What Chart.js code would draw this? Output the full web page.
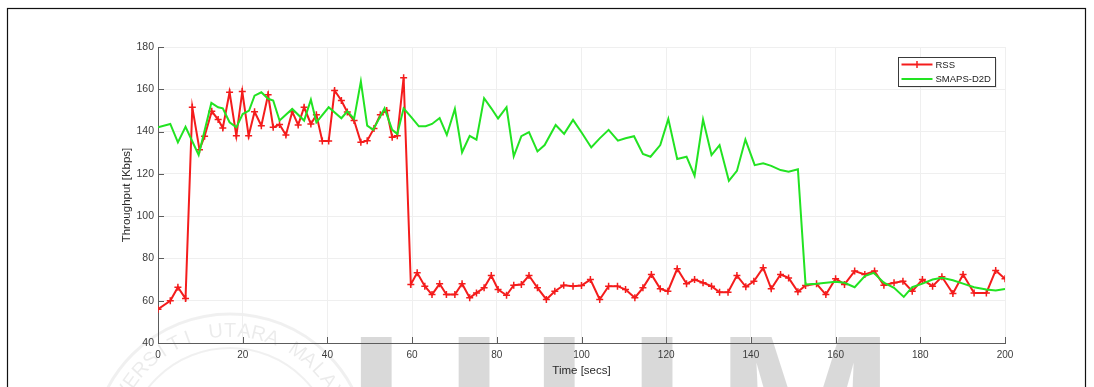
<!DOCTYPE html>
<html>
<head>
<meta charset="utf-8">
<title>Throughput</title>
<script src="https://cdn.jsdelivr.net/npm/chart.js@4.4.1/dist/chart.umd.min.js"></script>
<style>
  html, body { margin: 0; padding: 0; background: #fff; }
  #wrap { width: 1094px; height: 387px; }
</style>
</head>
<body>
<div id="wrap"><canvas id="chart-throughput" width="1094" height="387"></canvas></div>
<script>
// RSS throughput samples (time in secs, Kbps)
const rssTime = [0, 2.9, 4.7, 6.5, 8.1, 9.8, 11.0, 12.7, 14.2, 15.3, 16.9, 18.5, 19.9, 21.4, 22.8, 24.4, 26.0, 27.2, 28.7, 30.2,
  31.7, 33.1, 34.5, 36.1, 37.4, 38.8, 40.3, 41.7, 43.3, 44.7, 46.3, 47.9, 49.4, 51.0, 52.5, 54.0, 55.3, 56.5, 58.0, 59.7,
  61.2, 63.0, 64.7, 66.5, 68.1, 70.1, 71.8, 73.6, 75.2, 77.0, 78.7, 80.3, 82.3, 84.0, 85.8, 87.6, 89.6, 91.7, 93.7, 95.8,
  98.0, 100.0, 102.1, 104.3, 106.4, 108.5, 110.4, 112.6, 114.5, 116.5, 118.6, 120.4, 122.6, 124.8, 126.7, 128.7, 130.7, 132.6, 134.6, 136.7,
  138.8, 140.7, 142.9, 144.8, 147.0, 148.9, 151.1, 152.9, 155.5, 157.7, 160.0, 162.1, 164.5, 166.9, 169.2, 171.4, 173.8, 175.9, 178.1, 180.5,
  182.9, 185.1, 187.7, 190.1, 192.7, 195.6, 197.8, 200];
const rssKbps = [56, 60, 66.4, 61, 151.5, 131.4, 137.8, 149.6, 145.7, 141.7, 158.6, 138, 158.9, 138, 149.4, 142.8, 157.4, 142, 143.3, 138.4,
  149.4, 143.1, 151.5, 143.6, 147.9, 135.5, 135.5, 159.4, 154.7, 149.2, 145.2, 134.9, 135.7, 141.5, 148, 150, 137.3, 138, 165.5, 67.7,
  73.2, 66.9, 62.9, 68, 62.9, 62.9, 68, 61.4, 63.7, 66.1, 71.9, 65.3, 62.6, 67.3, 67.7, 71.9, 66.1, 60.6, 64.5, 67.3,
  66.9, 67.2, 70, 60.6, 66.9, 66.9, 65.3, 61.4, 66.1, 72.4, 65.6, 64.5, 75.1, 68, 70, 68.5, 66.9, 64, 64, 71.9,
  66.6, 69.2, 75.6, 65.6, 72.4, 70.8, 64.2, 67.2, 68, 62.9, 70.4, 67.7, 74, 72.4, 74, 67.3, 68.5, 69.2, 64.5, 70,
  66.9, 71.3, 63.4, 72.4, 63.7, 63.7, 74.3, 70.4];

// SMAPS-D2D throughput samples
const d2dTime = [0, 2.9, 4.7, 6.5, 9.6, 12.6, 14.2, 15.3, 16.9, 18.5, 20.0, 21.5, 22.8, 24.4, 26.0, 27.2, 28.7, 31.7, 34.5, 36.1,
  37.4, 40.3, 43.3, 44.7, 46.3, 47.9, 49.4, 50.8, 53.5, 55.3, 56.5, 58.0, 59.8, 61.6, 63.2, 64.7, 66.5, 68.2, 70.1, 71.8,
  73.6, 75.2, 77.0, 78.7, 80.3, 82.3, 84.0, 85.8, 87.6, 89.6, 91.3, 93.9, 95.9, 98.0, 100.1, 102.3, 104.3, 106.4, 108.6, 110.4,
  112.4, 114.5, 116.3, 118.6, 120.5, 122.6, 124.8, 126.7, 128.7, 130.7, 132.6, 134.8, 136.7, 138.7, 140.9, 142.9, 144.8, 147.0, 148.9, 151.1,
  152.9, 155.5, 160.0, 162.1, 164.5, 166.9, 169.0, 171.4, 173.8, 176.1, 178.1, 180.5, 182.9, 185.1, 187.7, 190.1, 192.7, 195.6, 197.8, 200];
const d2dKbps = [142, 143.6, 134.9, 142.3, 128.9, 153.6, 151.5, 151, 144.4, 142, 148.3, 149.9, 157, 158.6, 155.5, 154.7, 145.2, 150.7, 145.2, 155.1,
  144.4, 151.5, 146.3, 149.6, 146, 163.7, 142.8, 140.8, 151, 140.8, 138.9, 151, 146.8, 142.5, 142.5, 143.6, 146.4, 138.4, 150.7, 130.2,
  138, 136.2, 155.8, 151, 146.2, 151.5, 128.3, 137.8, 139.7, 130.6, 133.6, 143.1, 138.9, 145.5, 139.3, 132.5, 136.8, 140.8, 135.7, 136.8,
  137.8, 129.4, 128.1, 133.6, 146, 127, 128.1, 119.1, 145.7, 128.9, 133.6, 116.7, 121.4, 136.2, 124.1, 125, 123.8, 121.8, 121, 122.2,
  67.7, 68, 69, 68.5, 66.4, 71.6, 73.2, 68.5, 66.1, 61.8, 66.4, 68.1, 70, 70.8, 69.7, 68.1, 66.4, 65.3, 64.8, 65.6];

const xTicks = [0, 20, 40, 60, 80, 100, 120, 140, 160, 180, 200];
const yTicks = [40, 60, 80, 100, 120, 140, 160, 180];

const FONT = "'Liberation Sans', Arial, Helvetica, sans-serif";
const AXIS_COLOR = '#5c5c5c';
const LABEL_COLOR = '#3c3c3c';
const RSS_COLOR = '#f41c1c';
const D2D_COLOR = '#22e322';

const toPoints = (xs, ys) => xs.map((x, i) => ({ x, y: ys[i] }));

// White page, outer frame and the faint university watermark behind the plot
const backdropPlugin = {
  id: 'backdrop',
  beforeDraw(chart) {
    const { ctx, width, height } = chart;
    ctx.save();
    ctx.fillStyle = '#fff';
    ctx.fillRect(0, 0, width, height);

    // seal rings + arc text
    const cx = 230, cy = 452;
    ctx.strokeStyle = 'rgba(0,0,0,0.06)';
    ctx.lineWidth = 3;
    ctx.beginPath(); ctx.arc(cx, cy, 138, 0, Math.PI * 2); ctx.stroke();
    ctx.lineWidth = 2;
    ctx.beginPath(); ctx.arc(cx, cy, 104, 0, Math.PI * 2); ctx.stroke();
    const sealText = 'UNIVERSITI UTARA MALAYSIA';
    ctx.fillStyle = 'rgba(0,0,0,0.08)';
    ctx.font = `20px ${FONT}`;
    ctx.textAlign = 'center';
    ctx.textBaseline = 'middle';
    const step = 0.118;
    const start = -Math.PI / 2 - step * (sealText.length - 1) / 2;
    [...sealText].forEach((ch, i) => {
      const a = start + i * step;
      ctx.save();
      ctx.translate(cx + Math.cos(a) * 121, cy + Math.sin(a) * 121);
      ctx.rotate(a + Math.PI / 2);
      ctx.fillText(ch, 0, 0);
      ctx.restore();
    });

    // big UUM letters along the bottom
    ctx.fillStyle = 'rgba(0,0,0,0.15)';
    ctx.font = `bold 214px ${FONT}`;
    ctx.textAlign = 'left';
    ctx.textBaseline = 'alphabetic';
    ctx.fillText('U', 348, 484);
    ctx.fillText('U', 531, 484);
    ctx.fillText('M', 716, 484);

    // frame
    ctx.strokeStyle = '#111';
    ctx.lineWidth = 1.2;
    ctx.strokeRect(7.5, 8.5, 1078, 600);
    ctx.restore();
  }
};

// Inward tick marks on the left and bottom axes
const innerTicksPlugin = {
  id: 'innerTicks',
  afterDatasetsDraw(chart) {
    const { ctx, chartArea, scales } = chart;
    ctx.save();
    ctx.strokeStyle = AXIS_COLOR;
    ctx.lineWidth = 1;
    ctx.beginPath();
    xTicks.forEach(v => {
      const px = Math.round(scales.x.getPixelForValue(v)) + 0.5;
      ctx.moveTo(px, chartArea.bottom);
      ctx.lineTo(px, chartArea.bottom - 6);
    });
    yTicks.forEach(v => {
      const py = Math.round(scales.y.getPixelForValue(v)) + 0.5;
      ctx.moveTo(chartArea.left, py);
      ctx.lineTo(chartArea.left + 6, py);
    });
    ctx.stroke();
    ctx.restore();
  }
};

// Boxed legend in the top-right corner of the axes
const boxLegendPlugin = {
  id: 'boxLegend',
  afterDraw(chart) {
    const { ctx } = chart;
    const x = 898.5, y = 57.5, w = 97, h = 29;
    ctx.save();
    ctx.fillStyle = 'rgba(0,0,0,0.08)';
    ctx.fillRect(x + 1.5, y + 1.5, w, h);
    ctx.fillStyle = '#fff';
    ctx.fillRect(x, y, w, h);
    ctx.strokeStyle = '#3a3a3a';
    ctx.lineWidth = 1;
    ctx.strokeRect(x, y, w, h);
    ctx.font = `9.5px ${FONT}`;
    ctx.textBaseline = 'middle';
    chart.data.datasets.forEach((ds, i) => {
      const ry = y + 7 + i * 14.5;
      ctx.strokeStyle = ds.borderColor;
      ctx.lineWidth = 2;
      ctx.beginPath();
      ctx.moveTo(x + 3, ry);
      ctx.lineTo(x + 34, ry);
      ctx.stroke();
      if (ds.pointStyle === 'cross') {
        ctx.lineWidth = 1.5;
        ctx.beginPath();
        ctx.moveTo(x + 18.5, ry - 3.5); ctx.lineTo(x + 18.5, ry + 3.5);
        ctx.stroke();
      }
      ctx.fillStyle = '#222';
      ctx.fillText(ds.label, x + 37, ry + 0.5);
    });
    ctx.restore();
  }
};

new Chart(document.getElementById('chart-throughput'), {
  type: 'line',
  data: {
    datasets: [
      {
        label: 'RSS',
        data: toPoints(rssTime, rssKbps),
        borderColor: RSS_COLOR,
        backgroundColor: RSS_COLOR,
        borderWidth: 2,
        pointStyle: 'cross',
        pointRadius: 3.5,
        pointBorderWidth: 1.5,
        pointBorderColor: RSS_COLOR,
        tension: 0,
        order: 1
      },
      {
        label: 'SMAPS-D2D',
        data: toPoints(d2dTime, d2dKbps),
        borderColor: D2D_COLOR,
        backgroundColor: D2D_COLOR,
        borderWidth: 2,
        pointRadius: 0,
        tension: 0,
        order: 0
      }
    ]
  },
  options: {
    responsive: false,
    animation: false,
    events: [],
    layout: { padding: { left: 118, right: 89, top: 47, bottom: 0 } },
    plugins: {
      legend: { display: false },
      tooltip: { enabled: false }
    },
    scales: {
      x: {
        type: 'linear',
        min: 0,
        max: 200,
        afterFit: (scale) => { scale.height = 44; },
        afterBuildTicks: (scale) => { scale.ticks = xTicks.map(value => ({ value })); },
        grid: { color: '#efefef', lineWidth: 1, drawTicks: false },
        border: { display: true, color: AXIS_COLOR, width: 1 },
        ticks: { padding: 6, color: LABEL_COLOR, font: { family: FONT, size: 10 }, maxRotation: 0 },
        title: {
          display: true,
          text: 'Time [secs]',
          color: '#2a2a2a',
          font: { family: FONT, size: 11.5 },
          padding: { top: 0, bottom: 9 }
        }
      },
      y: {
        type: 'linear',
        min: 40,
        max: 180,
        afterFit: (scale) => { scale.width = 40; },
        afterBuildTicks: (scale) => { scale.ticks = yTicks.map(value => ({ value })); },
        grid: { color: '#efefef', lineWidth: 1, drawTicks: false },
        border: { display: true, color: AXIS_COLOR, width: 1 },
        ticks: { padding: 4, color: LABEL_COLOR, font: { family: FONT, size: 10.5 } },
        title: {
          display: true,
          text: 'Throughput [Kbps]',
          color: '#2a2a2a',
          font: { family: FONT, size: 11.5 },
          padding: { top: 2, bottom: 0 }
        }
      }
    }
  },
  plugins: [backdropPlugin, innerTicksPlugin, boxLegendPlugin]
});
</script>
</body>
</html>
